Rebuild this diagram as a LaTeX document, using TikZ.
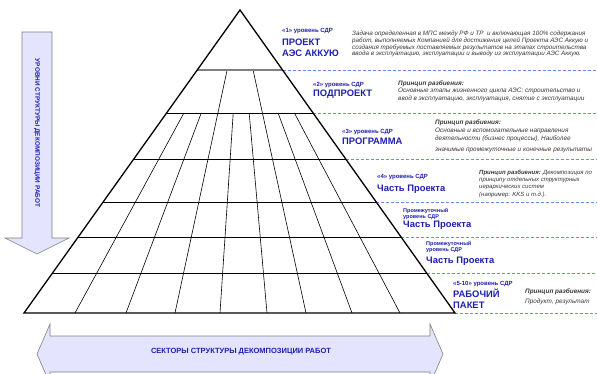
\documentclass[tikz,border=0pt]{standalone}
\usepackage{fontspec}
\setmainfont{Liberation Sans}
\usetikzlibrary{calc, positioning}

\definecolor{sdrblue}{RGB}{30,30,175}
\definecolor{notegray}{RGB}{55,55,55}
\definecolor{dashblue}{RGB}{105,140,240}
\definecolor{arrowfill}{RGB}{228,228,255}

\begin{document}
\begin{tikzpicture}[x=1pt, y=-1pt,
    edge/.style={line width=1.3pt, black},
    grid line/.style={line width=0.6pt, black},
    level line/.style={line width=0.9pt, black},
    level dash/.style={dashed, dash pattern=on 3pt off 2pt, dashblue, line width=0.8pt},
    arrowbox/.style={draw=gray, fill=arrowfill, line width=0.6pt},
    tag/.style={anchor=base west, inner sep=0pt, text=sdrblue, font=\fontsize{6}{7}\selectfont\bfseries},
    subtag/.style={anchor=north west, inner sep=0pt, align=left, text=sdrblue, font=\fontsize{5.5}{6.5}\selectfont\bfseries},
    title/.style={anchor=base west, inner sep=0pt, text=sdrblue, font=\fontsize{9.4}{11}\selectfont\bfseries},
    note/.style={anchor=north west, inner sep=0pt, align=left, text=notegray, font=\fontsize{6.4}{7.4}\selectfont\itshape},
    bandtext/.style={text=sdrblue, font=\fontsize{7.5}{8}\selectfont\bfseries, inner sep=0pt},
]
    \clip (0,0) rectangle (597,374);

    % pyramid corners
    \coordinate (apex) at (240,10);
    \coordinate (bl) at (24,313);
    \coordinate (br) at (455,313);
    \coordinate (rim) at (597,0);

    % levels: points on both sides of the pyramid
    \foreach \y [count=\i] in {70,113,159,202,237,273} {
        \pgfmathsetmacro{\t}{(\y-10)/303}
        \coordinate (L\i) at ($(apex)!\t!(bl)$);
        \coordinate (R\i) at ($(apex)!\t!(br)$);
    }

    % sectors along the base
    \foreach \k/\x in {1/75, 2/126, 3/175, 4/220, 5/267, 6/306, 7/352, 8/400}
        \coordinate (b\k) at (\x,313);

    % sector lines, two of them start one level higher
    \foreach \k/\t in {3/0.198, 6/0.198, 1/0.340, 2/0.340, 4/0.340, 5/0.340, 7/0.340, 8/0.340}
        \draw[grid line] ($(apex)!\t!(b\k)$) -- (b\k);

    % level lines and their dashed extensions
    \draw[line width=1.2pt, gray] (L1) -- (R1);
    \foreach \i in {2,...,6}
        \draw[level line] (L\i) -- (R\i);
    \foreach \i in {1,...,6}
        \draw[level dash] (R\i) -- (R\i -| rim);
    \draw[level dash] (br) -- (br -| rim);

    \draw[edge] (apex) -- (bl) -- (br) -- cycle;

    % levels arrow
    \draw[arrowbox] (22,32) -- (52,32) -- (52,238) -- (69,238) -- (37,254)
        -- (5,238) -- (22,238) -- cycle;
    \node[bandtext, font=\fontsize{6.4}{8}\selectfont\bfseries, rotate=-90] (levels) at (37,133)
        {УРОВНИ СТРУКТУРЫ ДЕКОМПОЗИЦИИ РАБОТ};

    % sectors arrow
    \draw[arrowbox] (37,354) -- (50,324) -- (50,336) -- (430,336) -- (430,324)
        -- (443,354) -- (430,384) -- (430,372) -- (50,372) -- (50,384) -- cycle;
    \node[bandtext] (sectors) at (241,352) {СЕКТОРЫ СТРУКТУРЫ ДЕКОМПОЗИЦИИ РАБОТ};

    % level 1
    \node[tag] (tag1) at (282,33) {«1» уровень СДР};
    \node[title] (title1a) at (282,46) {ПРОЕКТ};
    \node[title] (title1b) at (282,57) {АЭС АККУЮ};
    \node[note, font=\fontsize{6.3}{6.7}\selectfont\itshape] (note1) at (352,31)
        {Задача определенная в МПС между РФ и ТР \ и включающая 100\% содержания\\
         работ, выполняемых Компанией для достижения целей Проекта АЭС Аккую и\\
         создания требуемых поставляемых результатов на этапах строительства\\
         ввода в эксплуатацию, эксплуатации и выводу из эксплуатации АЭС Аккую.};

    % level 2
    \node[tag] (tag2) at (313,87) {«2» уровень СДР};
    \node[title] (title2) at (313,97) {ПОДПРОЕКТ};
    \node[note] (note2) at (398,80.5)
        {\textbf{Принцип разбиения:}\\
         Основные этапы жизненного цикла АЭС: строительство и\\
         ввод в эксплуатацию, эксплуатация, снятие с эксплуатации};

    % level 3
    \node[tag] (tag3) at (342,134) {«3» уровень СДР};
    \node[title] (title3) at (342,145) {ПРОГРАММА};
    \node[note, font=\fontsize{6.4}{7.9}\selectfont\itshape] (note3) at (435,119.5)
        {\textbf{Принцип разбиения:}\\
         Основные и вспомогательные направления\\
         деятельности (бизнес процессы), Наиболее\\[3pt]
         значимые промежуточные и конечные результаты};

    % level 4
    \node[tag] (tag4) at (377,179) {«4» уровень СДР};
    \node[title] (title4) at (377,192) {Часть Проекта};
    \node[note, font=\fontsize{6}{7.3}\selectfont\itshape] (note4) at (479,169.5)
        {\textbf{Принцип разбиения:} Декомпозиция по\\
         принципу отдельных структурных\\
         иерархических систем\\
         (например: KKS и т.д.).};

    % intermediate levels
    \node[subtag] (tag5) at (403,208) {Промежуточный\\уровень СДР};
    \node[title] (title5) at (403,228) {Часть Проекта};
    \node[subtag] (tag6) at (426,241) {Промежуточный\\уровень СДР};
    \node[title] (title6) at (426,263) {Часть Проекта};

    % levels 5-10
    \node[tag] (tag7) at (453,285) {«5-10» уровень СДР};
    \node[title] (title7a) at (453,297) {РАБОЧИЙ};
    \node[title] (title7b) at (453,308) {ПАКЕТ};
    \node[note, font=\fontsize{6.4}{10}\selectfont\itshape] (note7) at (525,288.5)
        {\textbf{Принцип разбиения:}\\
         Продукт, результат};
\end{tikzpicture}
\end{document}
